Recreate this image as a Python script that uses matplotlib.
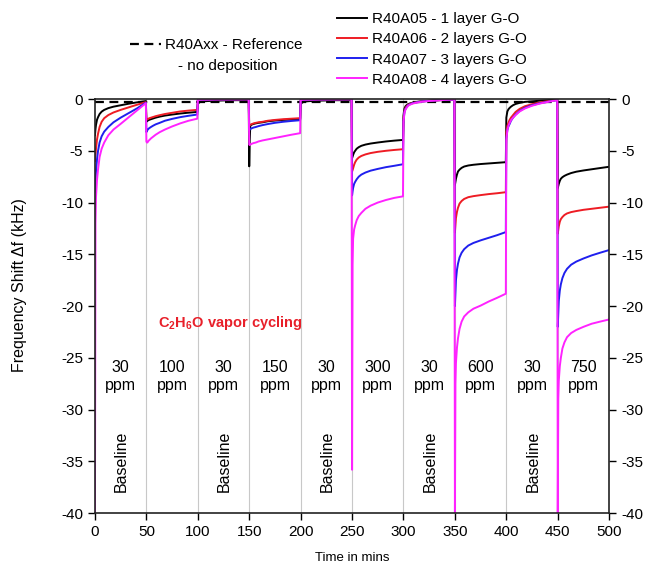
import matplotlib
matplotlib.use('Agg')
import matplotlib.pyplot as plt
import numpy as np

plt.rcParams['font.family'] = ['Liberation Sans', 'DejaVu Sans']
plt.rcParams['mathtext.fontset'] = 'custom'
plt.rcParams['mathtext.rm'] = 'Liberation Sans'
plt.rcParams['mathtext.bf'] = 'Liberation Sans:bold'
plt.rcParams['axes.unicode_minus'] = False

# time knots: each 50-min step sampled at the same offsets
seg_start = [0, 50, 100, 150, 200, 250, 300, 350, 400, 450]
offsets = [0, 0.5, 1, 2, 3, 4.5, 6.5, 9, 13, 18, 25, 33, 41, 49.5]
time_min = np.add.outer(seg_start, offsets).ravel()

# frequency shift (kHz), one row of values per 50-min step
r40a05 = [
    -3.5, -2.9, -2.5, -2.0, -1.75, -1.45, -1.22, -1.05, -0.88, -0.74, -0.6, -0.45, -0.32, -0.2,
    -2.2, -2.15, -2.1, -2.05, -2.0, -1.95, -1.88, -1.8, -1.7, -1.6, -1.5, -1.4, -1.32, -1.25,
    -0.5, -0.42, -0.37, -0.3, -0.27, -0.24, -0.22, -0.2, -0.18, -0.16, -0.14, -0.12, -0.11, -0.1,
    -6.5, -4.0, -2.6, -2.5, -2.45, -2.4, -2.35, -2.3, -2.25, -2.15, -2.08, -2.02, -1.98, -1.95,
    -0.6, -0.45, -0.38, -0.32, -0.28, -0.25, -0.22, -0.2, -0.18, -0.16, -0.14, -0.12, -0.11, -0.1,
    -5.7, -5.55, -5.4, -5.15, -5.0, -4.8, -4.65, -4.52, -4.4, -4.3, -4.2, -4.1, -4.02, -3.95,
    -1.6, -1.2, -0.9, -0.7, -0.6, -0.5, -0.42, -0.35, -0.28, -0.22, -0.17, -0.12, -0.08, -0.05,
    -8.3, -8.0, -7.7, -7.3, -7.0, -6.82, -6.65, -6.52, -6.42, -6.35, -6.28, -6.22, -6.16, -6.1,
    -1.8, -1.5, -1.2, -1.0, -0.88, -0.74, -0.6, -0.48, -0.37, -0.28, -0.22, -0.16, -0.1, -0.05,
    -8.6, -8.4, -8.2, -7.9, -7.7, -7.55, -7.42, -7.3, -7.15, -7.02, -6.9, -6.78, -6.67, -6.55]
r40a06 = [
    -6.0, -5.4, -4.8, -3.9, -3.35, -2.7, -2.2, -1.85, -1.55, -1.3, -1.05, -0.8, -0.55, -0.3,
    -2.0, -1.98, -1.95, -1.9, -1.85, -1.8, -1.73, -1.66, -1.56, -1.45, -1.33, -1.2, -1.12, -1.05,
    -0.1, -0.09, -0.08, -0.07, -0.06, -0.06, -0.05, -0.05, -0.05, -0.04, -0.04, -0.04, -0.03, -0.03,
    -2.6, -2.55, -2.5, -2.45, -2.4, -2.35, -2.3, -2.25, -2.2, -2.1, -2.02, -1.95, -1.9, -1.85,
    -0.1, -0.09, -0.08, -0.07, -0.06, -0.06, -0.05, -0.05, -0.05, -0.04, -0.04, -0.04, -0.03, -0.03,
    -7.0, -6.85, -6.7, -6.35, -6.1, -5.85, -5.65, -5.5, -5.35, -5.22, -5.1, -5.0, -4.92, -4.85,
    -1.9, -1.45, -1.1, -0.85, -0.7, -0.55, -0.46, -0.38, -0.3, -0.23, -0.17, -0.12, -0.08, -0.05,
    -12.9, -12.2, -11.5, -10.9, -10.5, -10.1, -9.85, -9.65, -9.48, -9.38, -9.28, -9.18, -9.1, -9.0,
    -3.2, -2.9, -2.6, -2.3, -2.05, -1.8, -1.55, -1.25, -0.95, -0.7, -0.5, -0.32, -0.2, -0.1,
    -13.0, -12.65, -12.3, -11.85, -11.6, -11.4, -11.2, -11.05, -10.92, -10.82, -10.7, -10.6, -10.5, -10.4]
r40a07 = [
    -9.0, -8.0, -7.0, -5.8, -5.0, -4.2, -3.6, -3.15, -2.7, -2.25, -1.8, -1.35, -0.9, -0.35,
    -3.2, -3.1, -3.0, -2.88, -2.8, -2.7, -2.58, -2.45, -2.3, -2.1, -1.92, -1.75, -1.62, -1.5,
    -0.1, -0.09, -0.08, -0.07, -0.06, -0.06, -0.05, -0.05, -0.05, -0.04, -0.04, -0.04, -0.03, -0.03,
    -3.0, -2.95, -2.9, -2.85, -2.8, -2.75, -2.7, -2.62, -2.52, -2.42, -2.3, -2.2, -2.12, -2.05,
    -0.1, -0.09, -0.08, -0.07, -0.06, -0.06, -0.05, -0.05, -0.05, -0.04, -0.04, -0.04, -0.03, -0.03,
    -9.3, -8.9, -8.6, -8.2, -8.0, -7.75, -7.5, -7.3, -7.1, -6.92, -6.75, -6.58, -6.45, -6.3,
    -2.1, -1.6, -1.2, -0.95, -0.8, -0.6, -0.5, -0.4, -0.32, -0.24, -0.18, -0.12, -0.08, -0.05,
    -20.0, -18.7, -17.5, -16.5, -15.9, -15.3, -14.85, -14.5, -14.15, -13.9, -13.65, -13.4, -13.15, -12.85,
    -3.8, -3.4, -3.0, -2.65, -2.45, -2.1, -1.8, -1.5, -1.15, -0.85, -0.6, -0.4, -0.25, -0.1,
    -22.0, -20.7, -19.5, -18.5, -17.9, -17.3, -16.8, -16.4, -16.0, -15.7, -15.4, -15.1, -14.85, -14.6]
r40a08 = [
    -40.0, -12.0, -9.5, -7.8, -6.8, -5.6, -4.8, -4.2, -3.5, -2.95, -2.4, -1.75, -1.1, -0.4,
    -4.1, -4.2, -4.2, -4.05, -3.95, -3.8, -3.65, -3.45, -3.2, -2.95, -2.65, -2.35, -2.1, -1.9,
    -0.1, -0.09, -0.08, -0.07, -0.06, -0.06, -0.05, -0.05, -0.05, -0.04, -0.04, -0.04, -0.03, -0.03,
    -4.4, -4.45, -4.4, -4.35, -4.3, -4.25, -4.2, -4.1, -4.0, -3.9, -3.75, -3.6, -3.45, -3.3,
    -0.1, -0.09, -0.08, -0.07, -0.06, -0.06, -0.05, -0.05, -0.05, -0.04, -0.04, -0.04, -0.03, -0.03,
    -35.8, -16.0, -13.5, -12.6, -12.2, -11.7, -11.3, -11.0, -10.6, -10.3, -10.0, -9.75, -9.55, -9.4,
    -2.2, -1.7, -1.3, -1.0, -0.85, -0.65, -0.54, -0.44, -0.35, -0.26, -0.19, -0.13, -0.08, -0.05,
    -40.0, -27.5, -25.5, -24.0, -23.1, -22.2, -21.5, -21.0, -20.6, -20.25, -19.95, -19.55, -19.2, -18.8,
    -4.0, -3.5, -3.0, -2.6, -2.35, -2.05, -1.8, -1.55, -1.2, -0.92, -0.65, -0.43, -0.27, -0.1,
    -40.0, -29.0, -27.2, -25.8, -25.0, -24.1, -23.5, -23.0, -22.6, -22.3, -22.0, -21.7, -21.5, -21.3]

ref_time = [0, 500]
ref_shift = [-0.25, -0.25]

series = [(r40a05, 'black', 'R40A05 - 1 layer G-O'),
          (r40a06, '#ee1c24', 'R40A06 - 2 layers G-O'),
          (r40a07, '#1f1fee', 'R40A07 - 3 layers G-O'),
          (r40a08, '#ff22ff', 'R40A08 - 4 layers G-O')]

step_conc = ['30', '100', '30', '150', '30', '300', '30', '600', '30', '750']
baseline_steps = [0, 2, 4, 6, 8]

fig = plt.figure(figsize=(6.46, 5.69), dpi=100)
ax = fig.add_axes([0.147, 0.098, 0.796, 0.728])

for t in seg_start[1:]:
    ax.axvline(t, color='#c8c8c8', lw=0.8, zorder=0)

ref_line, = ax.plot(ref_time, ref_shift, color='black', lw=1.6,
                    dashes=(4, 2.5))
handles = []
for vals, col, lab in series:
    h, = ax.plot(time_min, vals, color=col, lw=1.4, label=lab)
    handles.append(h)

for i, c in enumerate(step_conc):
    ax.text(seg_start[i] + 25, -26.8, c + '\nppm', ha='center', va='center',
            fontsize=11.5, linespacing=1.2)
for i in baseline_steps:
    ax.text(seg_start[i] + 26, -35, 'Baseline', rotation=90,
            ha='center', va='center', fontsize=11.5)

ax.text(132, -21.6, r'C$_\mathbf{2}$H$_\mathbf{6}$O vapor cycling',
        color='#e8202a', fontweight='bold', fontsize=10.5,
        ha='center', va='center')

ax.set_xlim(0, 500)
ax.set_ylim(-40, 0)
ax.set_xticks(np.arange(0, 501, 50))
ax.set_yticks(np.arange(-40, 1, 5))
ax.tick_params(direction='out', length=5, width=1, labelsize=11,
               right=True, labelright=True)
for s in ax.spines.values():
    s.set_linewidth(1.2)
    s.set_color('#222222')

ax.set_xlabel('Time in mins', fontsize=9.5, labelpad=9)
ax.set_ylabel('Frequency Shift \u0394f (kHz)', fontsize=11.5)
ax.yaxis.set_label_coords(-0.132, 0.55)

leg1 = fig.legend(handles=[ref_line], labels=['R40Axx - Reference'],
                  loc='center', bbox_to_anchor=(0.335, 0.921), frameon=False,
                  fontsize=11, handlelength=2.0, handletextpad=0.3)
fig.text(0.353, 0.884, '- no deposition', ha='center', va='center',
         fontsize=11)
leg2 = fig.legend(handles=handles, loc='center',
                  bbox_to_anchor=(0.668, 0.913), frameon=False, fontsize=11,
                  handlelength=2.0, handletextpad=0.3, labelspacing=0.4)

fig.savefig('out.png', dpi=100)
